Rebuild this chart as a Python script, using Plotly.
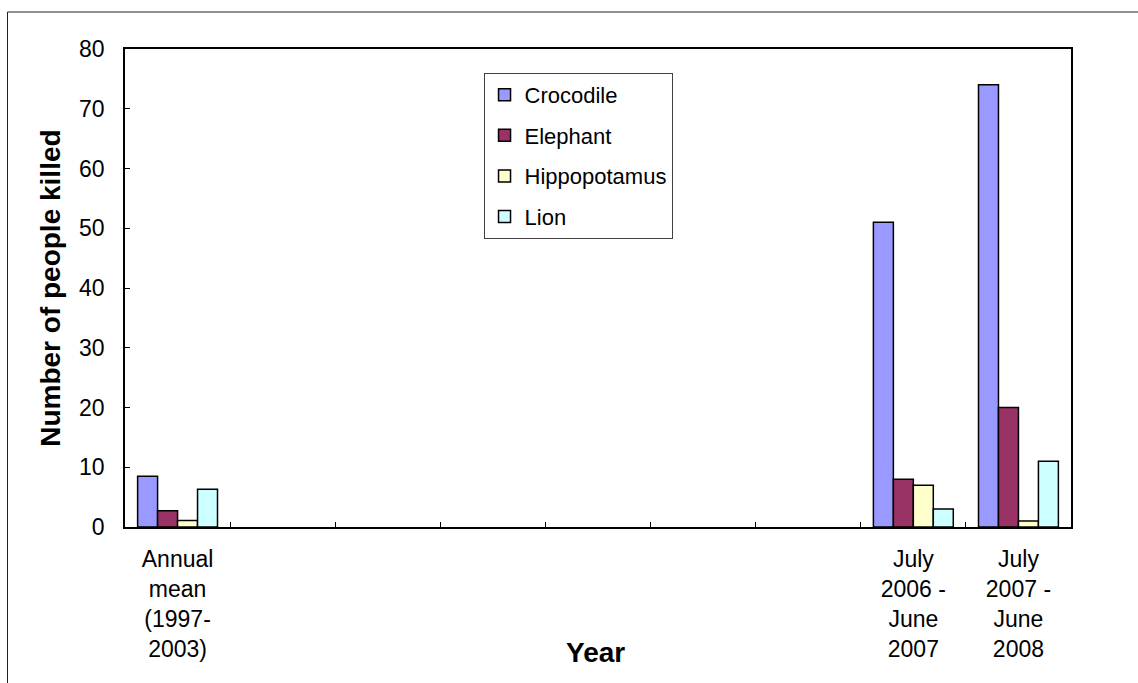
import plotly.graph_objects as go

# Reporting periods (9 slots on the axis; only three carry data)
period_labels = [
    "Annual<br>mean<br>(1997-<br>2003)",
    "", "", "", "", "", "",
    "July<br>2006 -<br>June<br>2007",
    "July<br>2007 -<br>June<br>2008",
]
slots = list(range(len(period_labels)))

# Number of people killed per animal
crocodile = [8.5, None, None, None, None, None, None, 51, 74]
elephant = [2.7, None, None, None, None, None, None, 8, 20]
hippopotamus = [1.1, None, None, None, None, None, None, 7, 1]
lion = [6.3, None, None, None, None, None, None, 3, 11]

series = [
    ("Crocodile", crocodile, "#9999FF"),
    ("Elephant", elephant, "#993366"),
    ("Hippopotamus", hippopotamus, "#FFFFCC"),
    ("Lion", lion, "#CCFFFF"),
]

FONT = "Liberation Sans, Arial, sans-serif"

fig = go.Figure()
for name, values, color in series:
    fig.add_trace(go.Bar(
        x=slots, y=values, name=name, legendgroup=name,
        marker=dict(color=color, line=dict(color="black", width=1.5)),
    ))

labelled = [i for i, t in enumerate(period_labels) if t]

fig.update_layout(
    width=1138, height=683,
    margin=dict(l=125, r=67, t=49, b=156),
    paper_bgcolor="white", plot_bgcolor="white",
    barmode="group", bargap=0.24, bargroupgap=0,
    font=dict(family=FONT, size=23, color="black"),
    showlegend=True,
    legend=dict(
        x=0.379, y=0.95, xanchor="left", yanchor="top",
        bgcolor="white", bordercolor="#404040", borderwidth=1,
        font=dict(family=FONT, size=22, color="black"),
        tracegroupgap=9, itemwidth=30,
    ),
    xaxis=dict(
        range=[-0.5, 8.5],
        tickmode="array",
        tickvals=labelled,
        ticktext=[period_labels[i] for i in labelled],
        ticks="", showgrid=False, zeroline=False,
        showline=True, linecolor="black", linewidth=1.5, mirror=True,
        ticklabelstandoff=11,
        minor=dict(
            tickmode="array",
            tickvals=[i + 0.5 for i in slots[:-1]],
            ticks="inside", ticklen=5, tickcolor="black", tickwidth=1,
            showgrid=False,
        ),
    ),
    yaxis=dict(
        range=[0, 80], dtick=10,
        ticks="inside", ticklen=5, tickcolor="black", tickwidth=1,
        showgrid=False, zeroline=False,
        showline=True, linecolor="black", linewidth=1.5, mirror=True,
        ticklabelstandoff=14,
    ),
    annotations=[
        dict(text="<b>Number of people killed</b>", textangle=-90,
             xref="paper", yref="paper", x=-0.0795, y=0.5,
             xanchor="center", yanchor="middle", showarrow=False,
             font=dict(family=FONT, size=28, color="black")),
        dict(text="<b>Year</b>",
             xref="paper", yref="paper", x=0.497, y=-0.262,
             xanchor="center", yanchor="middle", showarrow=False,
             font=dict(family=FONT, size=28, color="black")),
    ],
    shapes=[
        # outer chart-area frame (left and top edges)
        dict(type="path", xref="paper", yref="paper",
             path="M -0.1242 -0.3285 L -0.1242 1.0774 L 1.2 1.0774",
             line=dict(color="#202020", width=1)),
    ],
)

fig.write_html("out.html")
